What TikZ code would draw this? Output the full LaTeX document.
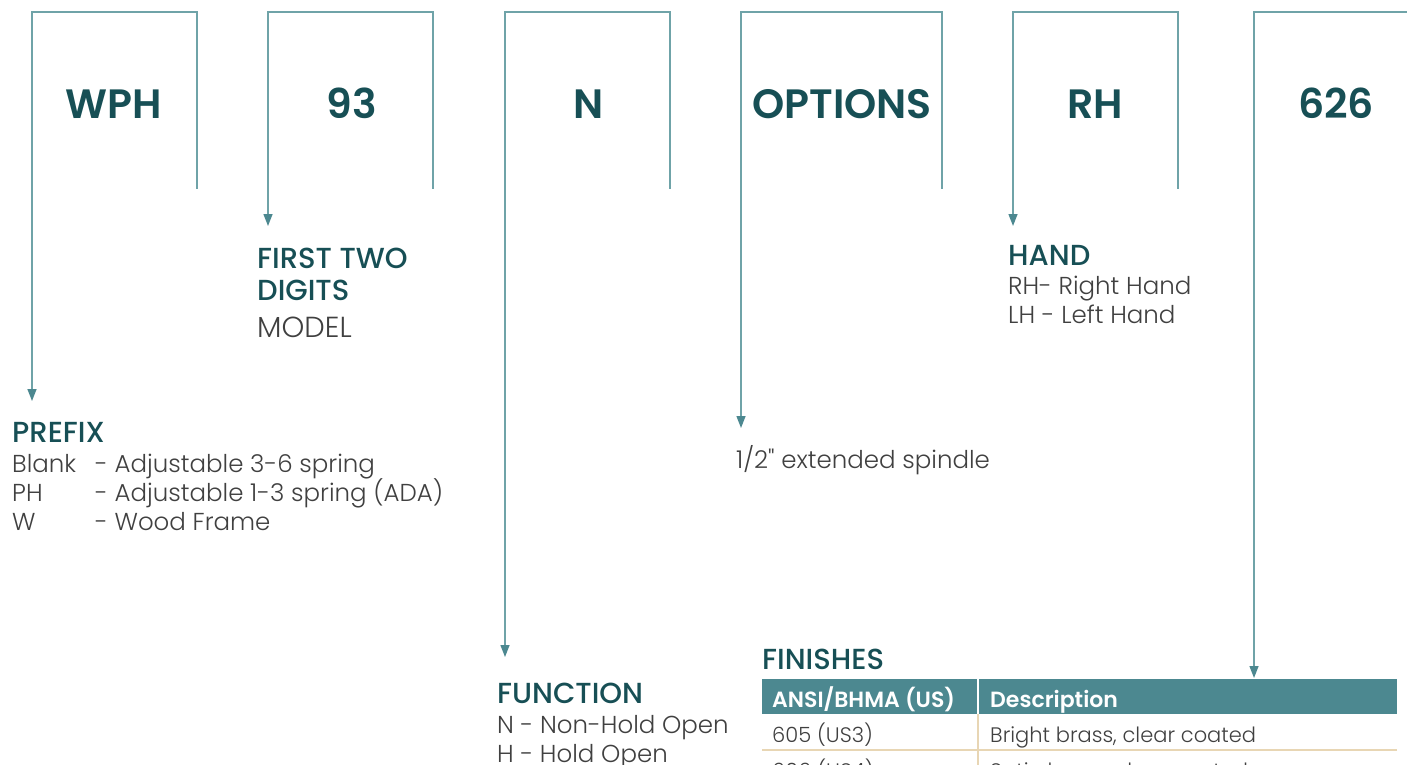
\documentclass[tikz,border=0pt]{standalone}
\usepackage{fontspec}
\setmainfont{Poppins}[UprightFont={* Light},BoldFont={* SemiBold}]
\newfontfamily\medfont{Poppins Medium}
\usetikzlibrary{arrows.meta}
\definecolor{tealline}{HTML}{6FA3A8}
\definecolor{tealarrow}{HTML}{4C8890}
\definecolor{tealdark}{HTML}{174F55}
\definecolor{greytext}{HTML}{404040}
\definecolor{tanline}{HTML}{E8D6B4}
\tikzset{
  bracket/.style={line width=1.4pt, tealline, {Triangle[length=12pt,width=9pt,color=tealarrow]}-},
  code/.style={anchor=base, text=tealdark, font=\bfseries\fontsize{41}{41}\selectfont},
  head/.style={anchor=base west, text=tealdark, font=\medfont\fontsize{29}{32}\selectfont, inner sep=0pt},
  body/.style={anchor=base west, text=greytext, font=\fontsize{24.5}{29}\selectfont, inner sep=0pt},
  cell/.style={anchor=base west, text=greytext, font=\fontsize{21}{24}\selectfont, inner sep=0pt},
  hcell/.style={cell, text=white, font=\bfseries\fontsize{22}{24}\selectfont}
}
\newcommand{\keyw}[1]{\makebox[83pt][l]{#1}}
\begin{document}
\begin{tikzpicture}[x=1pt,y=-1pt]
\useasboundingbox (0,0) rectangle (1407,765);
\clip (0,0) rectangle (1407,765);

% codes in the top row
\node[code] (wph) at (114,118) {WPH};
\node[code] (nn) at (352,118) {93};
\node[code] (fn) at (589,118) {N};
\node[code] (opt) at (842,118) {OPTIONS};
\node[code] (hand) at (1095,118) {RH};
\node[code] (fin) at (1336,118) {626};

% prefix
\node[head] (prefix) at (12,442) {PREFIX};
\node[body] (pre1) at (12,472) {\keyw{Blank}- Adjustable 3-6 spring};
\node[body] (pre2) at (12,501) {\keyw{PH}- Adjustable 1-3 spring (ADA)};
\node[body] (pre3) at (12,530) {\keyw{W}- Wood Frame};
% model
\node[head] (model1) at (257,268) {FIRST TWO};
\node[head] (model2) at (257,300) {DIGITS};
\node[body, font=\fontsize{29}{32}\selectfont] (model3) at (257,337) {MODEL};
% options
\node[body] (spindle) at (736,468) {1/2\XeTeXglyph\XeTeXcharglyph"22{} extended spindle};
% hand
\node[head] (handh) at (1008,265) {HAND};
\node[body] (hand1) at (1008,294) {RH- Right Hand};
\node[body] (hand2) at (1008,323) {LH - Left Hand};
% function
\node[head] (func) at (497,703) {FUNCTION};
\node[body] (func1) at (497,733) {N - Non-Hold Open};
\node[body] (func2) at (497,762) {H - Hold Open};
% finishes
\node[head] (finh) at (762,669) {FINISHES};

% arrow ends
\coordinate (a1) at (32,401);
\coordinate (a2) at (268,226);
\coordinate (a3) at (505,657);
\coordinate (a4) at (741,428);
\coordinate (a5) at (1013,226);
\coordinate (a6) at (1254,678);

% brackets
\draw[bracket] (a1) -- (32,12) -- (197,12) -- (197,189);
\draw[bracket] (a2) -- (268,12) -- (433,12) -- (433,189);
\draw[bracket] (a3) -- (505,12) -- (670,12) -- (670,189);
\draw[bracket] (a4) -- (741,12) -- (942,12) -- (942,189);
\draw[bracket] (a5) -- (1013,12) -- (1178,12) -- (1178,189);
\draw[bracket] (a6) -- (1254,12) -- (1407,12);

% finishes table
\fill[tealarrow] (762,679) rectangle (1397,714);
\draw[white, line width=1.5pt] (978,679) -- (978,714);
\draw[tanline, line width=1.2pt] (978,714) -- (978,765);
\draw[tanline, line width=1.2pt] (762,750) -- (1397,750);
\node[hcell] (colA) at (772,707) {ANSI/BHMA (US)};
\node[hcell] (colB) at (990,707) {Description};
\node[cell] (r1a) at (772,742) {605 (US3)};
\node[cell] (r1b) at (990,742) {Bright brass, clear coated};
\node[cell] (r2a) at (772,778) {606 (US4)};
\node[cell] (r2b) at (990,778) {Satin brass, clear coated};
\end{tikzpicture}
\end{document}
